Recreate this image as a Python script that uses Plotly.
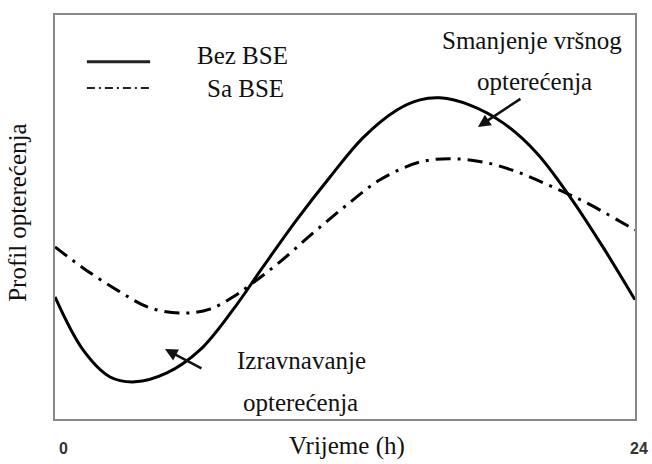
import plotly.graph_objects as go

# load profile (hours, relative load 0..100)
hours_bez = [0, 1.16, 2.28, 3.31, 4.63, 6.0, 7.36, 8.6, 10.0, 11.38, 12.74,
             14.15, 15.1, 15.93, 17.17, 18.54, 19.94, 21.31, 22.67, 24]
load_bez = [30.2, 17.1, 10.4, 9.2, 11.4, 17.1, 27.0, 37.6, 49.3, 59.9, 69.6,
            76.5, 79.0, 79.5, 77.7, 73.3, 65.8, 55.0, 42.6, 29.5]

hours_sa = [0, 1.16, 2.57, 3.93, 5.3, 6.41, 7.36, 8.19, 9.31, 10.67, 12.08,
            13.45, 15.1, 16.47, 17.87, 19.24, 20.6, 22.0, 23.79, 24]
load_sa = [42.6, 37.4, 31.9, 27.5, 26.2, 27.2, 30.2, 33.7, 38.9, 46.0, 53.0,
           59.2, 63.6, 64.4, 63.4, 60.9, 57.4, 53.5, 47.5, 46.8]

x_ticks = [0, 24]
x_tick_text = ['0', '24']

serif = 'Liberation Serif, Times New Roman, serif'
fs = 25

fig = go.Figure()
fig.add_trace(go.Scatter(x=hours_bez, y=load_bez, mode='lines', name='Bez BSE',
                         line=dict(color='black', width=3, shape='spline')))
fig.add_trace(go.Scatter(x=hours_sa, y=load_sa, mode='lines', name='Sa BSE',
                         line=dict(color='black', width=3, shape='spline',
                                   dash='15px,7px,3px,7px')))

# hand-drawn legend
fig.add_shape(type='line', xref='paper', yref='paper', x0=0.055, x1=0.164,
              y0=0.884, y1=0.884, line=dict(color='#222', width=3))
fig.add_shape(type='line', xref='paper', yref='paper', x0=0.055, x1=0.167,
              y0=0.819, y1=0.819, line=dict(color='#222', width=2, dash='8px,4px,2px,4px'))

texts = [
    ('Bez BSE', 0.324, 0.899, 'center'),
    ('Sa BSE', 0.328, 0.819, 'center'),
    ('Smanjenje vršnog', 0.979, 0.938, 'right'),
    ('opterećenja', 0.827, 0.835, 'center'),
    ('Izravnavanje', 0.425, 0.146, 'center'),
    ('opterećenja', 0.423, 0.04, 'center'),
    ('Vrijeme (h)', 0.503, -0.068, 'center'),
]
for t, x, y, xa in texts:
    fig.add_annotation(text=t, x=x, y=y, xref='paper', yref='paper', xanchor=xa,
                       yanchor='middle', showarrow=False, borderpad=0,
                       font=dict(family=serif, size=fs, color='#111'))

fig.add_annotation(text='Profil opterećenja', x=-0.064, y=0.51, xref='paper', yref='paper',
                   xanchor='center', yanchor='middle', textangle=-90, showarrow=False,
                   font=dict(family=serif, size=fs, color='#111'))

# x tick labels (sit slightly right of the ticks, as in the original)
for v, t, sh in zip(x_ticks, x_tick_text, [8, 4]):
    fig.add_annotation(text=t, x=v, y=-0.074, xref='x', yref='paper', xshift=sh,
                       xanchor='center', yanchor='middle', showarrow=False,
                       font=dict(family='Liberation Sans, Arial', size=16, color='#333', weight='bold'))

# arrows
fig.add_annotation(x=17.5, y=72.3, ax=44, ay=-29, text='', showarrow=True,
                   arrowhead=2, arrowsize=1, arrowwidth=2.5, arrowcolor='#111')
fig.add_annotation(x=4.55, y=17.3, ax=38, ay=20, text='', showarrow=True,
                   arrowhead=2, arrowsize=1, arrowwidth=2.5, arrowcolor='#111')

fig.update_xaxes(range=[0, 24], showticklabels=False, showgrid=False,
                 zeroline=False, showline=True, mirror=True, linecolor='#888', linewidth=1.5,
                 ticks='')
fig.update_yaxes(range=[0, 100], showticklabels=False, showgrid=False, zeroline=False,
                 showline=True, mirror=True, linecolor='#888', linewidth=1.5, ticks='')

fig.update_layout(width=652, height=464, margin=dict(l=55, r=17, t=15, b=45),
                  paper_bgcolor='white', plot_bgcolor='white', showlegend=False)

# page body has a default 8px margin; drop it so the figure fills the window exactly
fig.write_html("out.html", config={'displayModeBar': False},
               post_script="document.body.style.margin='0';document.body.style.overflow='hidden';")
